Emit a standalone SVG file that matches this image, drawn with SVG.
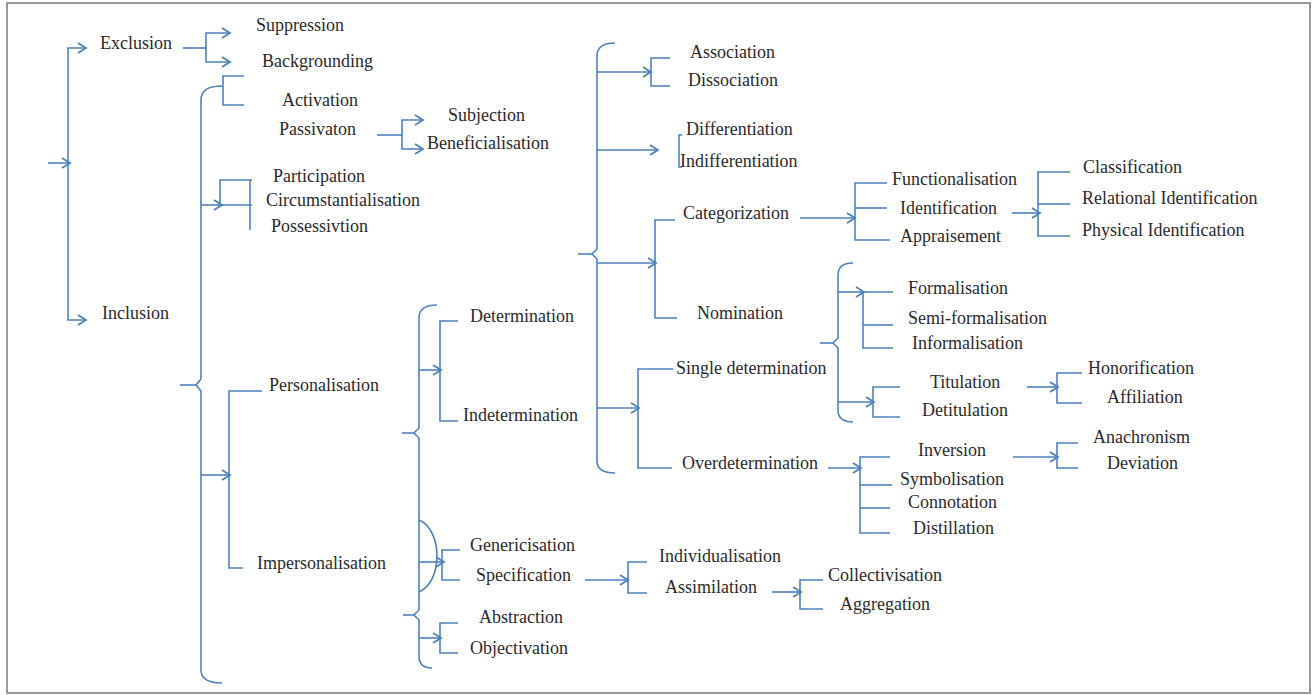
<svg xmlns="http://www.w3.org/2000/svg" width="1312" height="695" viewBox="0 0 1312 695">
<style>
.t{font-family:"Liberation Serif","Times New Roman",serif;font-size:18px;fill:#2b2b2b}
.c{fill:none;stroke:#4f81bd;stroke-width:1.6}
.a{marker-end:url(#ah)}
</style>
<defs>
<marker id="ah" markerWidth="12" markerHeight="12" refX="10" refY="6" orient="auto" markerUnits="userSpaceOnUse">
<path d="M2,1 L10,6 L2,11" fill="none" stroke="#4f81bd" stroke-width="1.8"/>
</marker>
</defs>
<rect x="0" y="0" width="1312" height="695" fill="#fff"/>
<rect x="7" y="3" width="1303" height="690" fill="none" stroke="#999" stroke-width="2"/>
<g id="connectors">
<path class="c a" d="M48,163 H70"/>
<path class="c a" d="M68,184 V48 H86"/>
<path class="c a" d="M68,184 V320 H86"/>
<path class="c" d="M183,48 H206"/>
<path class="c a" d="M206,48 V33 H230"/>
<path class="c a" d="M206,48 V62 H230"/>
<path class="c" d="M222,86 Q201,86 201,100 V379 L196,385 L201,391 V670 Q201,683 222,683"/>
<path class="c" d="M180,385 H196"/>
<path class="c" d="M244,76 H223 V105 H244"/>
<path class="c" d="M252,180 H220 V205 H252"/>
<path class="c a" d="M201,205 H222"/>
<path class="c" d="M250,180 V230"/>
<path class="c a" d="M201,475 H230"/>
<path class="c" d="M262,391 H229 V568 H243"/>
<path class="c" d="M377,135 H402"/>
<path class="c a" d="M402,135 V120 H423"/>
<path class="c a" d="M402,135 V149 H423"/>
<path class="c" d="M437,305 Q419,305 419,318 V428 L414,433 L419,438 V610 L414,615 L419,620 V656 Q419,668 432,668"/>
<path class="c" d="M402,433 H414"/>
<path class="c" d="M403,615 H414"/>
<path class="c" d="M419,520 C443,530 443,582 419,592"/>
<path class="c a" d="M419,370 H441"/>
<path class="c" d="M458,321 H440 V421 H458"/>
<path class="c a" d="M419,562 H444"/>
<path class="c" d="M460,550 H442 V580 H460"/>
<path class="c a" d="M419,638 H441"/>
<path class="c" d="M458,623 H440 V653 H458"/>
<path class="c" d="M615,43 Q597,43 597,56 V249 L592,254 L597,259 V461 Q597,473 615,473"/>
<path class="c" d="M578,254 H592"/>
<path class="c a" d="M597,72 H651"/>
<path class="c" d="M670,58 H651 V86 H670"/>
<path class="c a" d="M597,150 H658"/>
<path class="c" d="M682,135 H679 V167 H682"/>
<path class="c a" d="M597,263 H656"/>
<path class="c" d="M675,220 H655 V318 H677"/>
<path class="c a" d="M597,408 H639"/>
<path class="c" d="M673,369 H638 V468 H672"/>
<path class="c a" d="M800,218 H855"/>
<path class="c" d="M887,183 H855 V240 H890"/>
<path class="c" d="M855,208 H887"/>
<path class="c a" d="M1012,213 H1040"/>
<path class="c" d="M1070,172 H1038 V236 H1070"/>
<path class="c" d="M1038,204 H1070"/>
<path class="c" d="M853,263 Q838,263 838,275 V338 L833,343 L838,348 V410 Q838,422 853,422"/>
<path class="c" d="M820,343 H833"/>
<path class="c a" d="M838,292 H864"/>
<path class="c" d="M893,292 H863 V348 H893"/>
<path class="c" d="M863,325 H893"/>
<path class="c a" d="M838,402 H874"/>
<path class="c" d="M900,387 H873 V417 H900"/>
<path class="c a" d="M1027,387 H1058"/>
<path class="c" d="M1082,373 H1057 V403 H1082"/>
<path class="c a" d="M828,468 H861"/>
<path class="c" d="M890,457 H860 V533 H890"/>
<path class="c" d="M860,485 H892"/>
<path class="c" d="M860,508 H890"/>
<path class="c a" d="M1013,457 H1058"/>
<path class="c" d="M1078,443 H1057 V468 H1078"/>
<path class="c a" d="M585,580 H628"/>
<path class="c" d="M647,562 H628 V593 H647"/>
<path class="c a" d="M772,592 H801"/>
<path class="c" d="M823,580 H800 V609 H823"/>
</g>
<g id="n-exclusion"><text class="t" x="100" y="49">Exclusion</text></g>
<g id="n-suppression"><text class="t" x="256" y="31">Suppression</text></g>
<g id="n-backgrounding"><text class="t" x="262" y="67">Backgrounding</text></g>
<g id="n-activation"><text class="t" x="282" y="106">Activation</text></g>
<g id="n-passivaton"><text class="t" x="279" y="135">Passivaton</text></g>
<g id="n-subjection"><text class="t" x="448" y="121">Subjection</text></g>
<g id="n-beneficialisation"><text class="t" x="427" y="149">Beneficialisation</text></g>
<g id="n-participation"><text class="t" x="273" y="182">Participation</text></g>
<g id="n-circumstantialisation"><text class="t" x="266" y="206">Circumstantialisation</text></g>
<g id="n-possessivtion"><text class="t" x="271" y="232">Possessivtion</text></g>
<g id="n-inclusion"><text class="t" x="102" y="319">Inclusion</text></g>
<g id="n-personalisation"><text class="t" x="269" y="391">Personalisation</text></g>
<g id="n-impersonalisation"><text class="t" x="257" y="569">Impersonalisation</text></g>
<g id="n-determination"><text class="t" x="470" y="322">Determination</text></g>
<g id="n-indetermination"><text class="t" x="463" y="421">Indetermination</text></g>
<g id="n-genericisation"><text class="t" x="470" y="551">Genericisation</text></g>
<g id="n-specification"><text class="t" x="476" y="581">Specification</text></g>
<g id="n-abstraction"><text class="t" x="479" y="623">Abstraction</text></g>
<g id="n-objectivation"><text class="t" x="470" y="654">Objectivation</text></g>
<g id="n-association"><text class="t" x="690" y="58">Association</text></g>
<g id="n-dissociation"><text class="t" x="688" y="86">Dissociation</text></g>
<g id="n-differentiation"><text class="t" x="686" y="135">Differentiation</text></g>
<g id="n-indifferentiation"><text class="t" x="680" y="167">Indifferentiation</text></g>
<g id="n-categorization"><text class="t" x="683" y="219">Categorization</text></g>
<g id="n-nomination"><text class="t" x="697" y="319">Nomination</text></g>
<g id="n-single"><text class="t" x="676" y="374">Single determination</text></g>
<g id="n-overdetermination"><text class="t" x="682" y="469">Overdetermination</text></g>
<g id="n-functionalisation"><text class="t" x="892" y="185">Functionalisation</text></g>
<g id="n-identification"><text class="t" x="900" y="214">Identification</text></g>
<g id="n-appraisement"><text class="t" x="900" y="242">Appraisement</text></g>
<g id="n-classification"><text class="t" x="1083" y="173">Classification</text></g>
<g id="n-relational"><text class="t" x="1082" y="204">Relational Identification</text></g>
<g id="n-physical"><text class="t" x="1082" y="236">Physical Identification</text></g>
<g id="n-formalisation"><text class="t" x="908" y="294">Formalisation</text></g>
<g id="n-semiformalisation"><text class="t" x="908" y="324">Semi-formalisation</text></g>
<g id="n-informalisation"><text class="t" x="912" y="349">Informalisation</text></g>
<g id="n-titulation"><text class="t" x="930" y="388">Titulation</text></g>
<g id="n-detitulation"><text class="t" x="922" y="416">Detitulation</text></g>
<g id="n-honorification"><text class="t" x="1088" y="374">Honorification</text></g>
<g id="n-affiliation"><text class="t" x="1107" y="403">Affiliation</text></g>
<g id="n-inversion"><text class="t" x="918" y="456">Inversion</text></g>
<g id="n-symbolisation"><text class="t" x="900" y="485">Symbolisation</text></g>
<g id="n-connotation"><text class="t" x="908" y="508">Connotation</text></g>
<g id="n-distillation"><text class="t" x="913" y="534">Distillation</text></g>
<g id="n-anachronism"><text class="t" x="1093" y="443">Anachronism</text></g>
<g id="n-deviation"><text class="t" x="1107" y="469">Deviation</text></g>
<g id="n-individualisation"><text class="t" x="659" y="562">Individualisation</text></g>
<g id="n-assimilation"><text class="t" x="665" y="593">Assimilation</text></g>
<g id="n-collectivisation"><text class="t" x="828" y="581">Collectivisation</text></g>
<g id="n-aggregation"><text class="t" x="840" y="610">Aggregation</text></g>
</svg>
